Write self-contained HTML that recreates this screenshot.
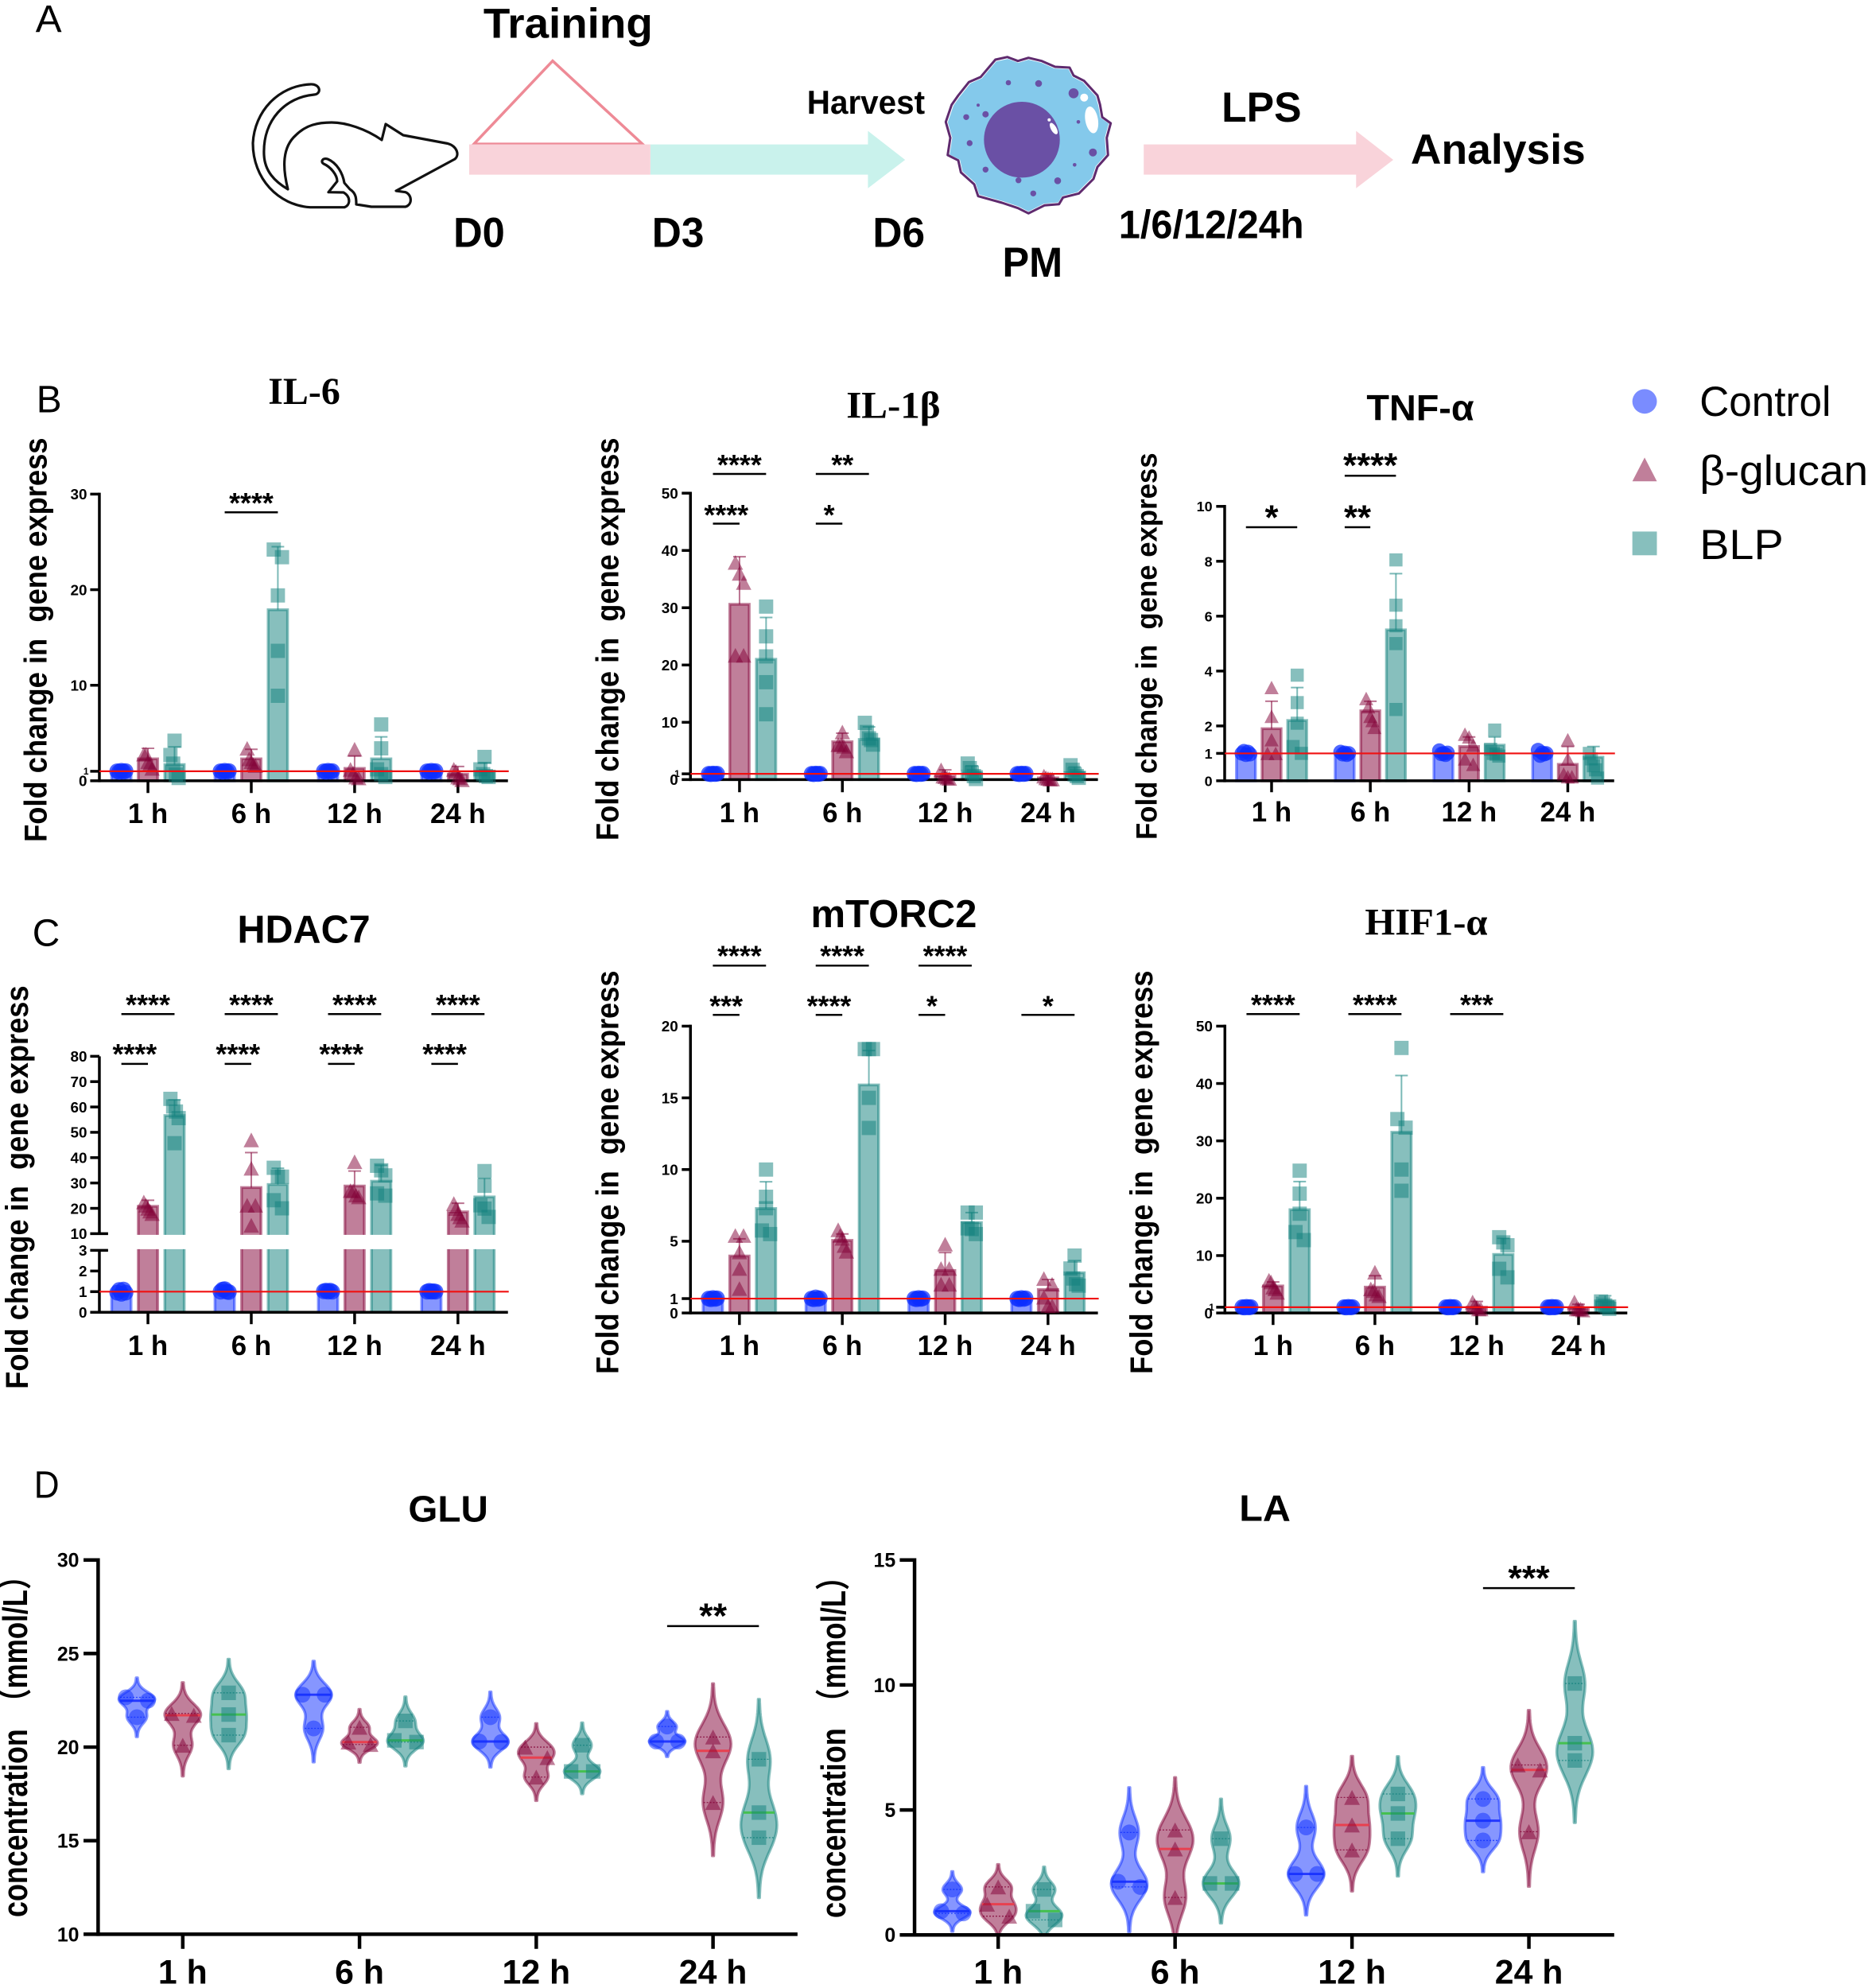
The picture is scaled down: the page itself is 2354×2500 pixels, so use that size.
<!DOCTYPE html>
<html lang="en">
<head>
<meta charset="utf-8">
<title>Macrophage training figure</title>
<style>
html,body{margin:0;padding:0;background:#fff;width:2354px;height:2500px;overflow:hidden}
svg{display:block}
text{font-family:"Liberation Sans","Noto Sans CJK SC",sans-serif;fill:#000;white-space:pre}
.serif{font-family:"Liberation Serif","Noto Serif CJK SC",serif;font-weight:bold}
.bold{font-weight:bold}
</style>
</head>
<body>
<svg id="figure" xmlns="http://www.w3.org/2000/svg" width="2354" height="2500" viewBox="0 0 2354 2500">
  <rect x="0" y="0" width="2354" height="2500" fill="#fff"/>

  <path fill="none" stroke="#111" stroke-width="3.2" stroke-linejoin="round" d="M395 119 C 360 122 330 150 332 195 C 333 215 345 228 362 238 C 355 210 355 185 372 170 C 385 157 400 154 417 154 C 435 154 460 162 480 176 L 485 156 L 507 170 L 563 180.5 C 575 184 578 195 572 200 L 498 240 L 510 241.7 C 518 245 519 257 510 260 L 467 260 L 448 257 C 448 250 448 243 440 238 L 433 230 C 431 218 424 205 412 200 C 405 198 403 204 407 206 C 416 210 424 220 424 228 L 413 241.7 L 432 242 C 441 247 441 258 433 260.7 L 390 260.7 C 350 258 318 225 318 180 C 320 140 350 108 390 106 C 403 105 405 118 395 119 Z"/>

  <g transform="scale(0.9949)">
    <text x="45" y="40" font-size="48" fill="#333" textLength="33" lengthAdjust="spacingAndGlyphs">A</text>
    <polygon points="599,182 698.5,77 812,182" fill="none" stroke="#ee8a96" stroke-width="3.5"/>
    <polygon points="822,182.5 1097,182.5 1097,165.5 1144,202 1097,238 1097,220.8 822,220.8" fill="#c9f2ec"/>
    <rect x="593" y="182.5" width="229" height="38.3" fill="#f9d3da"/>
    <polygon points="1445.6,182.5 1714,182.5 1714,165.5 1761,202 1714,238 1714,220.8 1445.6,220.8" fill="#f9d3da"/>
    <text class="bold" x="611" y="47.7" font-size="53" textLength="214" lengthAdjust="spacingAndGlyphs">Training</text>
    <text class="bold" x="1020" y="143.8" font-size="42" textLength="149" lengthAdjust="spacingAndGlyphs">Harvest</text>
    <text class="bold" x="1544" y="154" font-size="53" textLength="101" lengthAdjust="spacingAndGlyphs">LPS</text>
    <text class="bold" x="1783" y="207" font-size="53" textLength="221" lengthAdjust="spacingAndGlyphs">Analysis</text>
    <text class="bold" x="573" y="312" font-size="53" textLength="65" lengthAdjust="spacingAndGlyphs">D0</text>
    <text class="bold" x="824" y="312" font-size="53" textLength="66" lengthAdjust="spacingAndGlyphs">D3</text>
    <text class="bold" x="1103" y="312" font-size="53" textLength="66" lengthAdjust="spacingAndGlyphs">D6</text>
    <text class="bold" x="1414" y="301" font-size="50" textLength="234" lengthAdjust="spacingAndGlyphs">1/6/12/24h</text>
    <text class="bold" x="1267" y="350" font-size="53" textLength="76" lengthAdjust="spacingAndGlyphs">PM</text>
  </g>

  <g>
    <polygon fill="#fff" stroke="#5f2a6e" stroke-width="3" stroke-linejoin="round" points="1266.7,71.7 1280,76.7 1293.3,72.7 1310,76.7 1326.7,84 1345,85 1350,95 1363.3,101.7 1380,120 1383.3,131.7 1386,147.3 1396.7,155 1391.7,173.3 1393.3,195 1380,210 1375,225 1356.7,243.3 1336.7,248.3 1331.7,256.7 1313.3,258.3 1293.3,268.3 1280,261.7 1260,255 1230,246.7 1225,231.7 1208.3,216.7 1205,201.7 1191.7,195 1195,173.3 1189.3,153.3 1196.7,131.7 1205,120 1218.3,103.3 1233.3,96.7 1251.7,75"/>
    <polygon fill="#84c9eb" transform="translate(1293 170) scale(0.975) translate(-1293 -170)" points="1266.7,71.7 1280,76.7 1293.3,72.7 1310,76.7 1326.7,84 1345,85 1350,95 1363.3,101.7 1380,120 1383.3,131.7 1386,147.3 1396.7,155 1391.7,173.3 1393.3,195 1380,210 1375,225 1356.7,243.3 1336.7,248.3 1331.7,256.7 1313.3,258.3 1293.3,268.3 1280,261.7 1260,255 1230,246.7 1225,231.7 1208.3,216.7 1205,201.7 1191.7,195 1195,173.3 1189.3,153.3 1196.7,131.7 1205,120 1218.3,103.3 1233.3,96.7 1251.7,75"/>
    <circle cx="1285" cy="175.7" r="47.7" fill="#6a50a5"/>
    <ellipse cx="1372.7" cy="150.7" rx="8" ry="17" transform="rotate(-10 1372.7 150.7)" fill="#fff"/>
    <circle cx="1363.3" cy="122.7" r="5" fill="#fff"/>
    <ellipse cx="1325" cy="161.7" rx="3.5" ry="8" transform="rotate(-30 1325 161.7)" fill="#fff"/>
    <circle cx="1319.3" cy="150.7" r="2" fill="#fff"/>
    <g fill="#6a50a5">
      <circle cx="1268" cy="104" r="3.3"/>
      <circle cx="1306" cy="105" r="4.3"/>
      <circle cx="1350" cy="117.3" r="6.3"/>
      <circle cx="1230" cy="132.3" r="2"/>
      <circle cx="1239.3" cy="143.7" r="4"/>
      <circle cx="1215" cy="147.3" r="3.7"/>
      <circle cx="1219.3" cy="180" r="3.7"/>
      <circle cx="1239.3" cy="213.3" r="3.7"/>
      <circle cx="1280.7" cy="226.7" r="3.7"/>
      <circle cx="1330" cy="227.3" r="4.3"/>
      <circle cx="1299.3" cy="243.3" r="3.7"/>
      <circle cx="1351.3" cy="207.3" r="2.3"/>
      <circle cx="1374.3" cy="191.7" r="5"/>
      <circle cx="1356" cy="153.3" r="2.3"/>
    </g>
  </g>

  <g id="il6-panel" transform="translate(0 2.346) scale(0.9949)">
    <text x="46" y="519" font-size="48" fill="#333">B</text>
    <text class="serif" x="339" y="508" font-size="48" textLength="91" lengthAdjust="spacingAndGlyphs">IL-6</text>
    <text class="bold" transform="translate(59,1062) rotate(-90)" font-size="40" textLength="511" lengthAdjust="spacingAndGlyphs">Fold change in  gene express</text>
  </g>
  <g id="il1b-panel" transform="translate(3.672 2.346) scale(0.9949)">
    <text class="serif" x="1066" y="526" font-size="48" textLength="119" lengthAdjust="spacingAndGlyphs">IL-1β</text>
    <text class="bold" transform="translate(778,1060) rotate(-90)" font-size="40" textLength="509" lengthAdjust="spacingAndGlyphs">Fold change in  gene express</text>
  </g>
  <g id="tnf-panel" transform="translate(7.14 2.346) scale(0.9949)">
    <text class="bold" x="1720" y="529" font-size="46" textLength="136" lengthAdjust="spacingAndGlyphs">TNF-α</text>
    <text class="bold" transform="translate(1455,1059) rotate(-90)" font-size="37" textLength="489" lengthAdjust="spacingAndGlyphs">Fold change in  gene express</text>
    <g>
      <g>
        <circle cx="2071.5" cy="505" r="15.5" fill="rgb(13,46,255)" fill-opacity="0.55"/>
        <text x="2141" y="523.5" font-size="53" textLength="166" lengthAdjust="spacingAndGlyphs">Control</text>
      </g>
      <g>
        <polygon points="2071.5,576 2087,606 2056,606" fill="rgb(129,0,53)" fill-opacity="0.5"/>
        <text x="2141" y="611" font-size="53" textLength="213" lengthAdjust="spacingAndGlyphs">β-glucan</text>
      </g>
      <g>
        <rect x="2056" y="669.5" width="31" height="30" fill="rgb(15,127,123)" fill-opacity="0.5"/>
        <text x="2141" y="704" font-size="53" textLength="106" lengthAdjust="spacingAndGlyphs">BLP</text>
      </g>
    </g>
  </g>
  <g id="hdac7-panel" transform="translate(0 5.712) scale(0.9949)">
    <text x="41" y="1190" font-size="48" fill="#333">C</text>
    <text class="bold" x="300" y="1186" font-size="49" textLength="168" lengthAdjust="spacingAndGlyphs">HDAC7</text>
    <text class="bold" transform="translate(35,1750) rotate(-90)" font-size="40" textLength="510" lengthAdjust="spacingAndGlyphs">Fold change in  gene express</text>
  </g>
  <g id="mtorc2-panel" transform="translate(3.672 5.712) scale(0.9949)">
    <text class="bold" x="1021" y="1166" font-size="49" textLength="210" lengthAdjust="spacingAndGlyphs">mTORC2</text>
    <text class="bold" transform="translate(778,1731) rotate(-90)" font-size="40" textLength="510" lengthAdjust="spacingAndGlyphs">Fold change in  gene express</text>
  </g>
  <g id="hif1a-panel" transform="translate(7.14 5.712) scale(0.9949)">
    <text class="serif" x="1718" y="1176" font-size="48" textLength="155" lengthAdjust="spacingAndGlyphs">HIF1-α</text>
    <text class="bold" transform="translate(1449,1731) rotate(-90)" font-size="40" textLength="510" lengthAdjust="spacingAndGlyphs">Fold change in  gene express</text>
  </g>
  <g id="glu-panel" transform="translate(0 9.282) scale(0.9949)">
    <text x="43" y="1884" font-size="48" fill="#333" textLength="32" lengthAdjust="spacingAndGlyphs">D</text>
    <text class="bold" x="516" y="1914" font-size="47" textLength="101" lengthAdjust="spacingAndGlyphs">GLU</text>
    <text class="bold" transform="translate(34,2414) rotate(-90)" font-size="44" textLength="238" lengthAdjust="spacingAndGlyphs">concentration</text>
    <text class="bold" transform="translate(34,2160) rotate(-90)" font-size="44" textLength="195" lengthAdjust="spacingAndGlyphs">（mmol/L）</text>
  </g>
  <g id="la-panel" transform="translate(5.202 9.282) scale(0.9949)">
    <text class="bold" x="1561" y="1913" font-size="47" textLength="65" lengthAdjust="spacingAndGlyphs">LA</text>
    <text class="bold" transform="translate(1063,2415) rotate(-90)" font-size="44" textLength="240" lengthAdjust="spacingAndGlyphs">concentration</text>
    <text class="bold" transform="translate(1063,2160) rotate(-90)" font-size="44" textLength="194" lengthAdjust="spacingAndGlyphs">（mmol/L）</text>
  </g>
</svg>

<script>
/* ---------- shared categories ---------- */
const timeLabels = ['1 h', '6 h', '12 h', '24 h'];
const groupNames = ['control', 'beta-glucan', 'blp'];

/* ---------- IL-6 ---------- */
const il6Means = [[1,1,1,1],[2.3,2.3,1.3,0.7],[1.7,17.9,2.3,1.0]];
const il6Errors = [[0,0,0,0],[1.1,1,1.3,0.8],[1.85,6.6,2.3,0.9]];
const il6Points = [
  [[1,0.95,1.05,0.97,1.02],[1,0.95,1.05,0.97,1.02],[1,0.95,1.05,0.97,1.02],[1,0.95,1.05,0.97,1.02]],
  [[2.8,2.8,2,1.8,1.3],[3.4,2.3,2,1.7,1.6],[3.3,1.2,0.8,0.4,0.3],[1.2,1,0.4,0.3,0.1]],
  [[4.2,2.7,1.8,0.65,0.3],[24.2,23.4,19.4,13.6,8.9],[5.9,3.4,1.2,0.7,0.4],[2.5,1.2,0.7,0.5,0.4]]
];
const il6Ticks = [0,1,10,20,30];
const il6SmallTicks = [1];
const il6Sig = [{time:1,from:0,to:2,level:0,stars:'****'}];

/* ---------- IL-1 beta ---------- */
const il1bMeans = [[1,1,1,1],[30.6,6.6,0.6,0.3],[21,7.0,1.4,1.2]];
const il1bErrors = [[0,0,0,0],[8.3,1.5,1.1,0.5],[7.3,2.2,1,1]];
const il1bPoints = [
  [[1,0.95,1.05,0.97,1.02],[1,0.95,1.05,0.97,1.02],[1,0.95,1.05,0.97,1.02],[1,0.95,1.05,0.97,1.02]],
  [[37.9,36,34.4,21.7,21.7],[8.3,6.1,6.1,5.8,5],[1.7,0.6,0.5,0.3,0.2],[0.6,0.3,0.2,0.1,0.1]],
  [[30.2,25,21.5,17,11.4],[9.9,8.3,7.2,6.9,6.1],[2.8,2,1.2,0.6,0.1],[2.5,1.7,0.9,0.6,0.3]]
];
const il1bTicks = [0,1,10,20,30,40,50];
const il1bSmallTicks = [1];
const il1bSig = [
  {time:0,from:0,to:2,level:0,stars:'****'},{time:0,from:0,to:1,level:1,stars:'****'},
  {time:1,from:0,to:2,level:0,stars:'**'},{time:1,from:0,to:1,level:1,stars:'*'}
];

/* ---------- TNF-alpha ---------- */
const tnfMeans = [[1,1,1,1],[1.9,2.55,1.25,0.6],[2.2,5.5,1.3,0.86]];
const tnfErrors = [[0,0,0,0],[1,0.35,0.35,0.65],[1.2,2.05,0.3,0.39]];
const tnfPoints = [
  [[1,1.08,0.95,1.05,0.97],[1.05,0.97,1.02,0.95,1],[1.1,0.98,1,0.95,1.02],[1.12,0.92,1.02,0.97,1]],
  [[3.4,2.35,1.5,1,1],[3,2.7,2.35,2.2,1.95],[1.7,1.6,1.3,0.8,0.6],[1.5,0.8,0.25,0.15,0.15]],
  [[3.85,2.85,2.1,1.25,1],[8.05,6.4,5.65,5,2.6],[1.85,1.15,1,0.97,0.9],[1,0.8,0.55,0.4,0.1]]
];
const tnfTicks = [0,1,2,4,6,8,10];
const tnfSmallTicks = [];
const tnfSig = [
  {time:0,from:0,to:2,level:1,stars:'*'},
  {time:1,from:0,to:2,level:0,stars:'****'},{time:1,from:0,to:1,level:1,stars:'**'}
];

/* ---------- HDAC7 ---------- */
const hdac7Means = [[1,1,1,1],[20.8,28.2,28.8,18.6],[56.6,29.4,30.7,24.5]];
const hdac7Errors = [[0,0,0,0],[2.4,13.8,5.9,3.4],[6.2,6.4,6.3,7.3]];
const hdac7Points = [
  [[0.95,1.08,0.9,1.1,0.95],[1,1.1,1.12,1,0.98],[1.02,1.05,1,1.05,1],[1,1.04,1,1.02,1]],
  [[22.5,21.2,20,18.9,17.9],[47,35.8,21.2,21.2,13.3],[38.4,27,26.9,25.2,24.5],[21.9,19.9,17.9,16.6,15.3]],
  [[63.2,60.2,58.2,55.6,45.7],[36,32.5,32.5,23.2,20],[36.8,35,33,25.9,25],[34.7,28.9,21.2,19.9,16.6]]
];
const hdac7Ticks = [0,1,2,3,10,20,30,40,50,60,70,80];
const hdac7SmallTicks = [];
const hdac7Sig = [
  {time:0,from:0,to:2,level:0,stars:'****'},{time:0,from:0,to:1,level:1,stars:'****'},
  {time:1,from:0,to:2,level:0,stars:'****'},{time:1,from:0,to:1,level:1,stars:'****'},
  {time:2,from:0,to:2,level:0,stars:'****'},{time:2,from:0,to:1,level:1,stars:'****'},
  {time:3,from:0,to:2,level:0,stars:'****'},{time:3,from:0,to:1,level:1,stars:'****'}
];

/* ---------- mTORC2 ---------- */
const mtorc2Means = [[1,1,1,1],[3.97,5.06,2.96,1.63],[7.28,15.9,6.3,2.8]];
const mtorc2Errors = [[0,0,0,0],[1.2,0.45,1.25,0.7],[1.87,2.4,0.7,0.85]];
const mtorc2Points = [
  [[1,0.96,1.04,0.98,1.02],[1,0.96,1.08,0.98,1.02],[1,0.96,1.04,0.98,1.02],[1,0.96,1.04,0.98,1.02]],
  [[5.4,5.4,4.25,3.1,1.7],[5.8,5.4,5.2,4.7,4.3],[4.8,3.1,3.1,2,2],[2.4,2,1.1,0.5,0.5]],
  [[10,8.1,7.3,5.75,5.5],[18.4,18.4,18.4,15,12.9],[7,7,5.9,5.85,5.5],[4,3.1,2.4,2,1.9]]
];
const mtorc2Ticks = [0,1,5,10,15,20];
const mtorc2SmallTicks = [];
const mtorc2Sig = [
  {time:0,from:0,to:2,level:0,stars:'****'},{time:0,from:0,to:1,level:1,stars:'***'},
  {time:1,from:0,to:2,level:0,stars:'****'},{time:1,from:0,to:1,level:1,stars:'****'},
  {time:2,from:0,to:2,level:0,stars:'****'},{time:2,from:0,to:1,level:1,stars:'*'},
  {time:3,from:0,to:2,level:1,stars:'*'}
];

/* ---------- HIF1-alpha ---------- */
const hif1aMeans = [[1,1,1,1],[4.7,4.5,1,0.8],[18,31.5,10.2,2.1]];
const hif1aErrors = [[0,0,0,0],[0.7,2,1,0.7],[4.9,9.9,2.8,0.9]];
const hif1aPoints = [
  [[1,0.95,1.05,0.97,1.02],[1,0.95,1.05,0.97,1.02],[1,0.95,1.05,0.97,1.02],[1,0.95,1.05,0.97,1.02]],
  [[5.7,5.4,4.5,4.2,3.6],[7.1,4.2,3.9,3.3,3],[1.9,1.3,1,0.7,0.7],[1.9,0.7,0.7,0.7,0.5]],
  [[24.8,20.8,17.3,14.1,12.7],[46.2,33.8,32.3,25,21.3],[13.2,12.3,11.8,7.7,6.2],[2,1.6,1.3,1,0.7]]
];
const hif1aTicks = [0,1,10,20,30,40,50];
const hif1aSmallTicks = [1];
const hif1aSig = [
  {time:0,from:0,to:2,level:0,stars:'****'},
  {time:1,from:0,to:2,level:0,stars:'****'},
  {time:2,from:0,to:2,level:0,stars:'***'}
];

/* ---------- GLU violins ---------- */
const gluPoints = [
  [[22.66,22.48,21.6],[22.8,22.8,21],[21.6,20.3,20.27],[21.1,20.3,20.3]],
  [[21.8,21.7,20.1],[21.06,20.27,20.14],[20,19.44,18.4],[20.54,19.8,17.04]],
  [[22.9,21.74,20.64],[21.4,20.36,20.27],[20.1,18.7,18.7],[19.35,16.5,15.16]]
];
const gluBandwidths = [[0.35,0.6,0.45,0.27],[0.55,0.32,0.42,0.95],[0.6,0.43,0.4,1.07]];
const gluTicks = [10,15,20,25,30];
const gluSig = [{time:3,from:0,to:2,level:0,stars:'**'}];

/* ---------- LA violins ---------- */
const laPoints = [
  [[1.82,0.95,0.86],[4.1,2.13,1.92],[4.3,2.44,2.44],[5.44,4.57,3.78]],
  [[1.92,1.23,0.75],[4.2,3.44,1.5],[5.5,4.4,3.4],[6.8,6.6,4.13]],
  [[1.82,0.95,0.6],[3.85,2.06,2.06],[5.64,4.86,3.85],[10.06,7.67,6.98]]
];
const laBandwidths = [[0.24,0.6,0.55,0.42],[0.3,0.7,0.55,0.73],[0.3,0.53,0.5,0.83]];
const laTicks = [0,5,10,15];
const laSig = [{time:3,from:0,to:2,level:0,stars:'***'}];

/* ---------- layouts (kept apart from the data) ---------- */
const il6Layout = {axisX:125.6,y0:984.6,yTop:622.2,vTop:30,right:642,tickLeft:114,x0:187,step:130.6,offset:33.6,barW:24.5,labelY:1038,tickBottom:1000,labelFont:35,tickFont:19,labelGap:15.5,starFont:36,levels:[{line:645.2,star:626}],mScale:1};
const il1bLayout = {axisX:869,y0:983,yTop:621,vTop:50,right:1384,tickLeft:858,x0:931,step:130,offset:33.6,barW:24.5,labelY:1037,tickBottom:999,labelFont:35,tickFont:19,labelGap:15.5,starFont:36,levels:[{line:596.7,star:577.6},{line:659.5,star:641}],mScale:1};
const tnfLayout = {axisX:1540.7,y0:984.6,yTop:637.7,vTop:10,right:2033,tickLeft:1530,x0:1600,step:124.8,offset:32.4,barW:24,labelY:1036,tickBottom:999,labelFont:35,tickFont:18,labelGap:15.5,starFont:44,levels:[{line:599,star:576},{line:664,star:642}],mScale:0.92};
const hdac7Layout = {axisX:125.6,y0:1653,yTop:1329.4,vTop:80,right:642,tickLeft:114,x0:187,step:130.6,offset:33.6,barW:24.5,labelY:1707,tickBottom:1668,labelFont:35,tickFont:19,labelGap:15.5,starFont:36,levels:[{line:1276,star:1256.6},{line:1339,star:1319}],mScale:1,brk:{low:3,high:10,yLow:1574.7,yHigh:1553.6}};
const mtorc2Layout = {axisX:869,y0:1653.8,yTop:1291.3,vTop:20,right:1384,tickLeft:858,x0:930.9,step:130,offset:33.6,barW:24.5,labelY:1707,tickBottom:1669,labelFont:35,tickFont:19,labelGap:15.5,starFont:36,levels:[{line:1214.8,star:1195},{line:1277,star:1258}],mScale:1};
const hif1aLayout = {axisX:1541,y0:1653.8,yTop:1291.3,vTop:50,right:2049.6,tickLeft:1530,x0:1601.9,step:128.7,offset:33.6,barW:24.5,labelY:1707,tickBottom:1669,labelFont:35,tickFont:19,labelGap:15.5,starFont:36,levels:[{line:1276,star:1256.6}],mScale:1};
const gluLayout = {axisX:124,y0:2435.5,yTop:1962.5,vMin:10,vTop:30,right:1008,tickLeft:105.6,x0:231,step:223.4,offset:58,labelY:2498,tickBottom:2454,labelFont:43,tickFont:25,labelGap:24,starFont:45,levels:[{line:2046,star:2023}]};
const laLayout = {axisX:1150.7,y0:2436.4,yTop:1962.5,vMin:0,vTop:15,right:2035,tickLeft:1132,x0:1256.4,step:223.6,offset:58,labelY:2498,tickBottom:2454,labelFont:43,tickFont:25,labelGap:24,starFont:45,levels:[{line:1998,star:1975}]};

/* ---------- styles ---------- */
const groupColor = ['rgb(13,46,255)', 'rgb(129,0,53)', 'rgb(15,127,123)'];
const medianColor = ['#2438ff', '#e8404f', '#45c050'];
const NS = 'http://www.w3.org/2000/svg';

function mk(tag, name, attrs, parent) {
  const el = document.createElementNS(NS, tag);
  
  
  for (const k in attrs) el.setAttribute(k, attrs[k]);
  parent.appendChild(el);
  return el;
}

function yScale(L) {
  if (L.brk) {
    const b = L.brk;
    return v => {
      if (v <= b.low) return L.y0 - v * (L.y0 - b.yLow) / b.low;
      if (v >= b.high) return b.yHigh - (v - b.high) * (b.yHigh - L.yTop) / (L.vTop - b.high);
      return b.yLow - (v - b.low) * (b.yLow - b.yHigh) / (b.high - b.low);
    };
  }
  const min = L.vMin || 0;
  return v => L.y0 - (v - min) * (L.y0 - L.yTop) / (L.vTop - min);
}
function xScale(L) {
  return (t, g) => L.x0 + t * L.step + (g - 1) * L.offset;
}

/* Chain nearby values into clusters and spread each cluster horizontally. */
function swarm(values, y, threshold, spread) {
  const sorted = values.map((v, idx) => ({v, idx, py: y(v), dx: 0})).sort((a, b) => a.py - b.py);
  let start = 0;
  for (let i = 1; i <= sorted.length; i++) {
    if (i === sorted.length || sorted[i].py - sorted[i - 1].py >= threshold) {
      const cluster = sorted.slice(start, i).sort((a, b) => a.idx - b.idx);
      const n = cluster.length;
      cluster.forEach((p, k) => { if (n > 1) p.dx = -spread + 2 * spread * k / (n - 1); });
      start = i;
    }
  }
  return sorted;
}

function marker(g, x, y, s, alpha, name, parent) {
  const st = {fill: groupColor[g], 'fill-opacity': alpha};
  if (g === 0) return mk('circle', name, {cx: x, cy: y, r: 10 * s, ...st}, parent);
  if (g === 1) {
    const w = 19.5 * s, h = 18.5 * s;
    return mk('polygon', name, {points: `${x},${y - h / 2} ${x + w / 2},${y + h / 2} ${x - w / 2},${y + h / 2}`, ...st}, parent);
  }
  const a = 18 * s;
  return mk('rect', name, {x: x - a / 2, y: y - a / 2, width: a, height: a, ...st}, parent);
}

function drawAxes(id, L, ticks, smallTicks, y, x, root, axisW) {
  const axes = mk('g', id + '-axes', {stroke: '#000', 'stroke-width': axisW, fill: 'none'}, root);
  if (L.brk) {
    mk('line', id + '-y-axis-lower', {x1: L.axisX, x2: L.axisX, y1: L.y0, y2: L.brk.yLow}, axes);
    mk('line', id + '-y-axis-upper', {x1: L.axisX, x2: L.axisX, y1: L.brk.yHigh, y2: L.yTop}, axes);
  } else {
    mk('line', id + '-y-axis', {x1: L.axisX, x2: L.axisX, y1: L.y0 + axisW / 2, y2: L.yTop - axisW / 2}, axes);
  }
  mk('line', id + '-x-axis', {x1: L.tickLeft, x2: L.right, y1: L.y0, y2: L.y0}, axes);
  ticks.forEach(v => {
    const py = y(v);
    const isBreakEdge = L.brk && (v === L.brk.low || v === L.brk.high);
    if (v !== (L.vMin || 0)) mk('line', id + '-y-tick-' + v, {x1: L.tickLeft, x2: isBreakEdge ? L.axisX + 11 : L.axisX, y1: py, y2: py}, axes);
    const small = smallTicks.includes(v);
    const label = mk('text', id + '-y-tick-label-' + v, {
      x: L.axisX - L.labelGap + (small ? 2 : 0), y: py + (small ? 4 : L.tickFont * 0.36),
      'text-anchor': 'end', 'font-size': small ? 12 : L.tickFont, 'font-weight': 'bold'
    }, root);
    label.textContent = String(v);
  });
  timeLabels.forEach((lab, t) => {
    const px = x(t, 1);
    mk('line', id + '-x-tick-' + t, {x1: px, x2: px, y1: L.y0, y2: L.tickBottom}, axes);
    const label = mk('text', id + '-x-tick-label-' + t, {
      x: px, y: L.labelY, 'text-anchor': 'middle', 'font-size': L.labelFont, 'font-weight': 'bold'
    }, root);
    label.textContent = lab;
  });
}

function drawSig(id, L, sig, x, root) {
  sig.forEach((s, i) => {
    const lv = L.levels[s.level];
    const x1 = x(s.time, s.from), x2 = x(s.time, s.to);
    mk('line', id + '-significance-bracket-' + i, {x1, x2, y1: lv.line, y2: lv.line, stroke: '#000', 'stroke-width': 2.5}, root);
    const label = mk('text', id + '-significance-stars-' + i, {
      x: (x1 + x2) / 2, y: lv.star + L.starFont * 0.56, 'text-anchor': 'middle', 'font-size': L.starFont, 'font-weight': 'bold'
    }, root);
    label.textContent = s.stars;
  });
}

function drawBarChart(c) {
  const L = c.layout;
  const root = mk('g', c.id + '-chart', {}, document.getElementById(c.id + '-panel'));
  const y = yScale(L), x = xScale(L);
  c.means.forEach((row, g) => row.forEach((mean, t) => {
    const cx = x(t, g), top = y(mean);
    const col = groupColor[g];
    const err = c.errors[g][t];
    const tag = c.id + '-' + groupNames[g] + '-' + timeLabels[t].replace(' ', '');
    if (err > 0) {
      const et = y(mean + err);
      mk('line', tag + '-error-bar', {x1: cx, x2: cx, y1: top, y2: et, stroke: col, 'stroke-opacity': 0.55, 'stroke-width': 2}, root);
      mk('line', tag + '-error-cap', {x1: cx - 8, x2: cx + 8, y1: et, y2: et, stroke: col, 'stroke-opacity': 0.55, 'stroke-width': 2}, root);
    }
    mk('rect', tag + '-bar', {
      x: cx - L.barW / 2, y: top, width: L.barW, height: L.y0 - top,
      fill: col, 'fill-opacity': 0.5, stroke: col, 'stroke-opacity': 0.5, 'stroke-width': 3.5
    }, root);
  }));
  if (L.brk) {
    mk('rect', c.id + '-axis-break-gap', {x: L.tickLeft - 2, y: L.brk.yHigh + 1.5, width: L.right - L.tickLeft + 4, height: L.brk.yLow - L.brk.yHigh - 3, fill: '#fff'}, root);
  }
  drawAxes(c.id, L, c.ticks, c.smallTicks, y, x, root, 3.5);
  c.points.forEach((row, g) => row.forEach((vals, t) => {
    swarm(vals, y, 14, 5.2).forEach(p => {
      marker(g, x(t, g) + p.dx, p.py, L.mScale, g === 0 ? 0.72 : 0.5, c.id + '-' + groupNames[g] + '-point', root);
    });
  }));
  mk('line', c.id + '-baseline-reference-line', {x1: L.axisX, x2: L.right + 1, y1: y(1), y2: y(1), stroke: '#f01010', 'stroke-width': 2.2}, root);
  drawSig(c.id, L, c.sig, x, root);
}

function drawViolinChart(c) {
  const L = c.layout;
  const root = mk('g', c.id + '-chart', {}, document.getElementById(c.id + '-panel'));
  const y = yScale(L), x = xScale(L);
  const halfWidth = 22;
  c.points.forEach((row, g) => row.forEach((vals, t) => {
    const h = c.bandwidths[g][t], cx = x(t, g), col = groupColor[g];
    const tag = c.id + '-' + groupNames[g] + '-' + timeLabels[t].replace(' ', '');
    const sorted = [...vals].sort((a, b) => a - b);
    const lo = sorted[0] - 3 * h, hi = sorted[2] + 3 * h;
    const dens = v => vals.reduce((s, p) => s + Math.exp(-0.5 * ((v - p) / h) ** 2), 0);
    const steps = 60;
    const samples = [];
    for (let i = 0; i <= steps; i++) samples.push(lo + (hi - lo) * i / steps);
    const peak = Math.max(...samples.map(dens));
    const wAt = v => halfWidth * dens(v) / peak;
    const left = samples.map(v => `${(cx - wAt(v) - 0.8).toFixed(1)},${y(Math.max(v, L.vMin || 0)).toFixed(1)}`);
    const right = samples.slice().reverse().map(v => `${(cx + wAt(v) + 0.8).toFixed(1)},${y(Math.max(v, L.vMin || 0)).toFixed(1)}`);
    mk('path', tag + '-violin', {
      d: 'M' + left.concat(right).join(' L') + ' Z',
      fill: col, 'fill-opacity': 0.5, stroke: col, 'stroke-opacity': 0.5, 'stroke-width': 3.5, 'stroke-linejoin': 'round'
    }, root);
    [sorted[0], sorted[2]].forEach(v => {
      mk('line', tag + '-quartile-line', {x1: cx - wAt(v), x2: cx + wAt(v), y1: y(v), y2: y(v), stroke: col, 'stroke-width': 1.3, 'stroke-dasharray': '2 2', 'stroke-opacity': 0.8}, root);
    });
    const med = sorted[1];
    mk('line', tag + '-median-line', {x1: cx - wAt(med), x2: cx + wAt(med), y1: y(med), y2: y(med), stroke: medianColor[g], 'stroke-width': 3}, root);
    swarm(vals, y, 16, 14).forEach(p => {
      marker(g, cx + p.dx, p.py, g === 0 ? 1 : 1.02, 0.5, c.id + '-' + groupNames[g] + '-point', root);
    });
  }));
  drawAxes(c.id, L, c.ticks, [], y, x, root, 4.5);
  drawSig(c.id, L, c.sig, x, root);
}

[
  {id:'il6', means:il6Means, errors:il6Errors, points:il6Points, ticks:il6Ticks, smallTicks:il6SmallTicks, sig:il6Sig, layout:il6Layout},
  {id:'il1b', means:il1bMeans, errors:il1bErrors, points:il1bPoints, ticks:il1bTicks, smallTicks:il1bSmallTicks, sig:il1bSig, layout:il1bLayout},
  {id:'tnf', means:tnfMeans, errors:tnfErrors, points:tnfPoints, ticks:tnfTicks, smallTicks:tnfSmallTicks, sig:tnfSig, layout:tnfLayout},
  {id:'hdac7', means:hdac7Means, errors:hdac7Errors, points:hdac7Points, ticks:hdac7Ticks, smallTicks:hdac7SmallTicks, sig:hdac7Sig, layout:hdac7Layout},
  {id:'mtorc2', means:mtorc2Means, errors:mtorc2Errors, points:mtorc2Points, ticks:mtorc2Ticks, smallTicks:mtorc2SmallTicks, sig:mtorc2Sig, layout:mtorc2Layout},
  {id:'hif1a', means:hif1aMeans, errors:hif1aErrors, points:hif1aPoints, ticks:hif1aTicks, smallTicks:hif1aSmallTicks, sig:hif1aSig, layout:hif1aLayout}
].forEach(drawBarChart);

[
  {id:'glu', points:gluPoints, bandwidths:gluBandwidths, ticks:gluTicks, sig:gluSig, layout:gluLayout},
  {id:'la', points:laPoints, bandwidths:laBandwidths, ticks:laTicks, sig:laSig, layout:laLayout}
].forEach(drawViolinChart);
</script>
</body>
</html>
